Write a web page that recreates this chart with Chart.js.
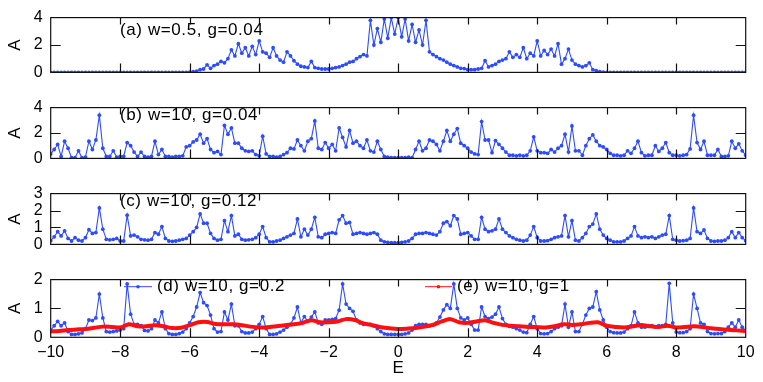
<!DOCTYPE html>
<html><head><meta charset="utf-8">
<script src="https://cdn.jsdelivr.net/npm/chart.js@4/dist/chart.umd.min.js"></script>
<style>
html,body{margin:0;padding:0;background:#fff;}
#wrap{position:relative;width:763px;height:382px;overflow:hidden;}
canvas{position:absolute;left:0;}
</style></head><body>
<div id="wrap">
<canvas id="ca" width="763" height="90" style="top:0px"></canvas>
<canvas id="cb" width="763" height="86" style="top:90px"></canvas>
<canvas id="cc" width="763" height="86" style="top:176px"></canvas>
<canvas id="cd" width="763" height="120" style="top:262px"></canvas>
</div>
<script>
// ---- tick values and labels ----
const xTicks = [-10,-8,-6,-4,-2,0,2,4,6,8,10];
const xTickLabels = ['\u221210','\u22128','\u22126','\u22124','\u22122','0','2','4','6','8','10'];
const yTicksA = [0,2,4];
const yTicksB = [0,2,4];
const yTicksC = [0,1,2,3];
const yTicksD = [0,1,2];
const panelLabels = ['(a) w=0.5, g=0.04','(b) w=10, g=0.04','(c) w=10, g=0.12'];
const legendLabels = ['(d) w=10, g=0.2','(e) w=10, g=1'];

// ---- series values, E = -10 .. 10 step 0.1 ----
const valuesA = [
0,0,0,0,0,0,0,0,0,0,
0,0,0,0,0,0,0,0,0,0,
0,0,0,0,0,0,0,0,0,0,
0,0,0,0,0,0,0,0,0,0,
0.01,0.05,0.1,0.2,0.25,0.55,0.3,0.5,0.6,0.8,
0.7,1.0,1.65,1.2,2.1,1.4,1.8,1.2,1.9,1.3,
2.3,1.5,1.4,1.1,1.8,1.2,0.9,0.75,1.5,1.2,
0.85,0.6,0.45,0.4,0.35,0.8,0.35,0.3,0.25,0.25,
0.25,0.3,0.35,0.4,0.5,0.6,0.75,0.8,1.0,1.15,
1.3,1.2,3.8,2.0,3.2,2.2,3.9,2.5,4.0,2.8,
4.0,2.6,3.9,2.3,3.5,2.2,3.1,2.0,3.8,1.5,
1.3,1.15,1.0,0.9,0.75,0.6,0.5,0.4,0.3,0.28,
0.2,0.2,0.2,0.25,0.3,0.85,0.4,0.5,0.6,0.8,
0.9,1.0,1.5,1.1,1.3,1.1,1.8,1.0,1.4,1.2,
2.3,1.2,1.6,1.3,1.7,1.2,2.1,0.6,1.0,1.7,
0.9,0.6,0.5,0.4,0.5,0.7,0.2,0.12,0.05,0.02,
0,0,0,0,0,0,0,0,0,0,
0,0,0,0,0,0,0,0,0,0,
0,0,0,0,0,0,0,0,0,0,
0,0,0,0,0,0,0,0,0,0,
0];
const valuesB = [
0.35,0.7,1.1,0.15,1.35,0.8,0.05,0.05,0.6,0.05,
0.1,1.35,0.7,1.45,3.4,0.8,0.15,0.15,0.6,0.1,
0.15,0.15,1.25,1.0,0.5,0.15,0.5,0.15,0.1,0.15,
1.35,0.3,0.7,0.15,0.15,0.1,0.15,0.15,0.2,0.9,
1.0,1.3,1.45,1.9,1.2,1.55,0.7,0.45,0.55,0.3,
2.6,1.9,2.4,1.2,1.2,0.8,0.6,0.55,0.6,0.3,
0.2,1.75,0.35,0.15,0.15,0.1,0.15,0.3,0.45,0.8,
0.75,1.45,1.0,0.6,1.35,1.55,2.95,0.8,0.7,1.25,
0.8,1.1,0.6,2.4,1.65,0.9,2.2,1.2,1.35,1.0,
0.8,1.45,0.6,0.5,1.35,0.7,0.15,0.1,0.05,0.05,
0.05,0.05,0.05,0.1,0.05,0.7,1.35,0.6,0.8,1.45,
1.35,1.1,0.6,1.35,2.2,1.35,1.9,2.35,1.2,1.0,
0.8,0.5,0.35,0.3,2.9,1.45,1.45,0.45,1.4,1.1,
0.8,0.5,0.25,0.25,0.2,0.25,0.2,0.25,0.6,1.7,
0.6,0.45,0.45,0.4,0.7,0.5,0.8,1.0,1.9,0.5,
2.55,0.6,0.6,0.25,1.0,1.55,1.85,1.35,1.0,0.9,
0.7,0.4,0.25,0.25,0.2,0.25,0.6,0.4,0.8,1.35,
0.45,0.2,0.25,0.25,1.0,0.55,0.8,1.25,0.45,0.25,
0.25,0.2,0.25,0.3,0.75,3.4,1.25,0.7,1.35,0.25,
0.25,0.25,0.7,0.15,0.15,0.2,1.35,0.8,1.15,0.6,
0.25];
const valuesC = [
0.22,0.45,0.75,0.5,0.8,0.35,0.2,0.4,0.25,0.2,
0.4,0.87,0.65,0.7,2.15,0.9,0.3,0.27,0.3,0.35,
0.2,0.2,1.72,0.5,0.55,0.45,0.3,0.27,0.25,0.3,
0.7,0.6,1.05,0.35,0.2,0.18,0.2,0.25,0.3,0.35,
0.55,0.75,1.0,1.8,1.25,1.25,0.65,0.35,0.25,0.3,
1.4,0.75,1.7,0.5,0.6,0.3,0.25,0.27,0.3,0.4,
0.6,1.05,0.4,0.15,0.15,0.2,0.25,0.35,0.45,0.55,
0.65,1.5,0.45,0.9,0.55,0.9,1.6,0.45,0.4,0.6,
0.65,0.7,0.65,1.45,1.7,1.25,1.3,0.6,0.65,0.7,
0.65,0.6,0.65,0.7,0.6,0.25,0.15,0.12,0.1,0.1,
0.1,0.12,0.15,0.2,0.35,0.6,0.65,0.65,0.7,0.65,
0.6,0.55,0.75,1.25,1.35,1.1,1.7,1.5,0.6,0.65,
0.7,0.5,0.3,0.3,1.6,0.9,0.75,0.8,0.9,1.5,
0.9,0.7,0.5,0.4,0.3,0.25,0.2,0.25,0.55,1.05,
0.4,0.2,0.2,0.22,0.3,0.4,0.45,0.5,1.7,0.45,
1.4,0.25,0.2,0.4,0.65,1.05,1.2,1.8,0.9,0.55,
0.35,0.25,0.15,0.15,0.15,0.2,0.35,0.5,1.05,0.5,
0.4,0.45,0.4,0.45,0.35,0.45,0.55,0.6,1.7,0.3,
0.25,0.2,0.22,0.25,0.35,2.15,0.75,0.65,0.85,0.35,
0.2,0.18,0.2,0.2,0.25,0.4,0.75,0.4,0.7,0.4,
0.22];
const valuesD = [
0.24,0.4,0.55,0.4,0.5,0.2,0.1,0.1,0.12,0.15,
0.3,0.6,0.58,0.67,1.5,0.67,0.2,0.18,0.2,0.22,
0.25,0.3,1.85,0.8,0.45,0.45,0.4,0.24,0.22,0.3,
0.6,0.5,0.88,0.3,0.13,0.1,0.1,0.13,0.18,0.3,
0.5,0.72,1.05,1.55,1.2,1.1,0.77,0.3,0.18,0.2,
0.88,0.6,1.15,0.4,0.4,0.2,0.15,0.15,0.18,0.3,
0.45,0.72,0.3,0.1,0.1,0.12,0.18,0.25,0.35,0.45,
0.67,1.05,0.5,0.72,0.55,0.7,0.88,0.5,0.45,0.6,
0.6,0.62,0.65,0.94,1.85,1.15,1.0,0.9,0.6,0.5,
0.45,0.45,0.45,0.4,0.3,0.2,0.12,0.1,0.1,0.1,
0.1,0.1,0.12,0.15,0.25,0.4,0.45,0.45,0.45,0.4,
0.42,0.5,0.7,0.95,1.13,1.0,1.85,1.0,0.67,0.6,
0.67,0.45,0.25,0.25,1.05,0.72,0.65,0.7,0.8,1.05,
0.65,0.45,0.38,0.35,0.3,0.25,0.18,0.16,0.45,0.72,
0.3,0.13,0.12,0.13,0.2,0.3,0.35,0.4,1.15,0.35,
0.88,0.2,0.2,0.45,0.77,1.0,1.05,1.58,0.95,0.6,
0.35,0.2,0.16,0.15,0.15,0.18,0.3,0.4,0.88,0.5,
0.35,0.35,0.4,0.4,0.35,0.4,0.4,0.45,1.87,0.5,
0.18,0.16,0.16,0.2,0.3,1.5,1.0,0.5,0.45,0.2,
0.13,0.12,0.13,0.13,0.2,0.35,0.5,0.35,0.6,0.35,
0.24];
// ---- red series (e), E = -10 .. 10 step 0.25 ----
const valuesE = [
0.2,0.22,0.25,0.27,0.29,0.33,0.37,0.36,0.34,0.45,
0.38,0.38,0.42,0.38,0.32,0.33,0.42,0.52,0.53,0.46,
0.45,0.45,0.42,0.37,0.34,0.35,0.38,0.42,0.45,0.5,
0.59,0.52,0.52,0.55,0.63,0.6,0.48,0.42,0.35,0.31,
0.29,0.3,0.32,0.37,0.43,0.55,0.63,0.52,0.5,0.55,
0.59,0.5,0.43,0.4,0.38,0.36,0.35,0.34,0.38,0.45,
0.43,0.45,0.5,0.52,0.4,0.36,0.34,0.38,0.43,0.38,
0.36,0.4,0.34,0.36,0.38,0.36,0.31,0.29,0.26,0.24,
0.22];

// sampling grids in E
const toPts = (vals, step) => vals.map((v,i) => ({x: Math.round((-10 + i*step)*100)/100, y: v}));

const BLUE = '#2d4bff';
const RED = '#ff1010';
const FONT = '"Liberation Sans", Arial, Helvetica, sans-serif';

const framePlugin = {
  id: 'frameTicks',
  afterDatasetsDraw(chart, args, opts) {
    const {ctx, chartArea: a} = chart;
    const xs = chart.scales.x, ys = chart.scales.y;
    ctx.save();
    ctx.strokeStyle = '#111';
    ctx.lineWidth = 1.2;
    ctx.strokeRect(a.left, a.top, a.right - a.left, a.bottom - a.top);
    ctx.beginPath();
    xTicks.forEach(v => {
      if (v <= xs.min || v >= xs.max) return;
      const px = Math.round(xs.getPixelForValue(v)) + 0.5;
      ctx.moveTo(px, a.top); ctx.lineTo(px, a.top + 7);
      ctx.moveTo(px, a.bottom); ctx.lineTo(px, a.bottom - 9);
    });
    (opts.yTicks || []).forEach(v => {
      if (v <= ys.min || v >= ys.max) return;
      const py = Math.round(ys.getPixelForValue(v)) + 0.5;
      ctx.moveTo(a.left, py); ctx.lineTo(a.left + 10, py);
      ctx.moveTo(a.right, py); ctx.lineTo(a.right - 10, py);
    });
    ctx.stroke();
    ctx.fillStyle = '#000';
    ctx.font = '17px ' + FONT;
    try { ctx.letterSpacing = '0.6px'; } catch (e) {}
    ctx.textBaseline = 'middle';
    ctx.textAlign = 'left';
    if (opts.label) ctx.fillText(opts.label.text, opts.label.x, opts.label.y);
    (opts.legend || []).forEach(l => {
      ctx.strokeStyle = l.color; ctx.lineWidth = 1;
      ctx.beginPath(); ctx.moveTo(l.x0, l.y); ctx.lineTo(l.x1, l.y); ctx.stroke();
      ctx.fillStyle = l.color;
      ctx.beginPath(); ctx.arc((l.x0 + l.x1) / 2, l.y, 1.8, 0, Math.PI * 2); ctx.fill();
      ctx.fillStyle = '#000';
      ctx.fillText(l.text, l.x1 + 5, l.y);
    });
    ctx.restore();
  }
};

function makeChart(id, datasets, yMax, yTicks, padTop, padBottom, showX, extra) {
  return new Chart(document.getElementById(id), {
    type: 'line',
    data: { datasets },
    options: {
      responsive: false,
      animation: false,
      events: [],
      layout: { padding: { top: padTop, bottom: padBottom, left: 0, right: 17.3 } },
      plugins: {
        legend: { display: false },
        tooltip: { enabled: false },
        frameTicks: Object.assign({ yTicks }, extra)
      },
      scales: {
        x: {
          type: 'linear', min: -10, max: 10,
          display: showX,
          afterBuildTicks(s) { s.ticks = xTicks.map(v => ({ value: v })); },
          afterFit(s) { if (showX) s.height = 44.7; },
          grid: { display: false, drawTicks: false },
          border: { display: false },
          ticks: {
            color: '#000', font: { size: 16, family: FONT }, padding: 6, maxRotation: 0, autoSkip: false,
            callback: (v) => xTickLabels[xTicks.indexOf(v)]
          },
          title: { display: true, text: 'E', color: '#000', font: { size: 17, family: FONT }, padding: { top: 0, bottom: 3 } }
        },
        y: {
          min: 0, max: yMax,
          afterBuildTicks(s) { s.ticks = yTicks.map(v => ({ value: v })); },
          afterFit(s) { s.width = 50.7; },
          grid: { display: false, drawTicks: false },
          border: { display: false },
          ticks: { color: '#000', font: { size: 16, family: FONT }, padding: 8, autoSkip: false },
          title: { display: true, text: 'A', color: '#000', font: { size: 17, family: FONT }, padding: { top: 5, bottom: 0 } }
        }
      }
    },
    plugins: [framePlugin]
  });
}

const blueDs = (vals) => ({
  data: toPts(vals, 0.1), borderColor: BLUE, backgroundColor: BLUE,
  borderWidth: 1.1, pointRadius: 1.9, pointBorderWidth: 0, tension: 0, order: 1
});

makeChart('ca', [blueDs(valuesA)], 4, yTicksA, 15.3, 11.7, false,
  { label: { text: panelLabels[0], x: 120, y: 30 } });
makeChart('cb', [blueDs(valuesB)], 4, yTicksB, 11.7, 12, false,
  { label: { text: panelLabels[1], x: 120, y: 25 } });
makeChart('cc', [blueDs(valuesC)], 3, yTicksC, 12.3, 11.5, false,
  { label: { text: panelLabels[2], x: 120, y: 25 } });
makeChart('cd', [
  { data: toPts(valuesE, 0.25), borderColor: RED, backgroundColor: RED, borderWidth: 4,
    pointRadius: 1.5, pointBorderWidth: 0, tension: 0.3, order: 0 },
  blueDs(valuesD)
], 2, yTicksD, 13.3, 0, true,
  { legend: [
    { text: legendLabels[0], color: BLUE, x0: 124, x1: 152, y: 24.7 },
    { text: legendLabels[1], color: RED, x0: 425, x1: 452, y: 24.7 }
  ] });
</script>
</body></html>
